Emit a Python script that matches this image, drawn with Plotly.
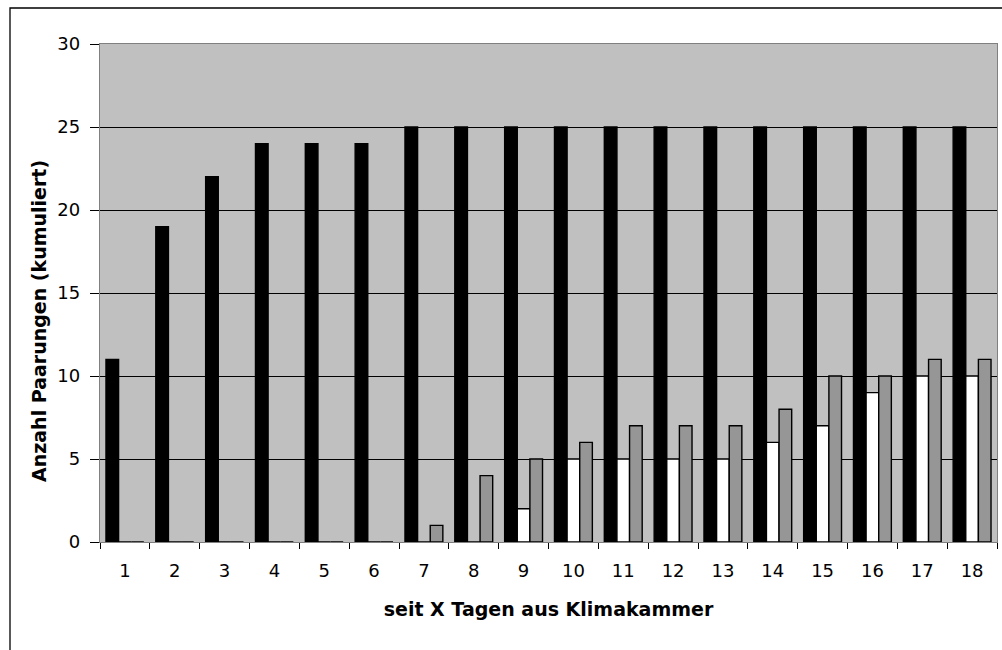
import plotly.graph_objects as go

# Tage seit Klimakammer
tage = [str(i) for i in range(1, 19)]

# kumulierte Paarungen je Gruppe
serie_schwarz = [11, 19, 22, 24, 24, 24, 25, 25, 25, 25, 25, 25, 25, 25, 25, 25, 25, 25]
serie_weiss = [0, 0, 0, 0, 0, 0, 0, 0, 2, 5, 5, 5, 5, 6, 7, 9, 10, 10]
serie_grau = [0, 0, 0, 0, 0, 0, 1, 4, 5, 6, 7, 7, 7, 8, 10, 10, 11, 11]

y_ticks = [0, 5, 10, 15, 20, 25, 30]

FONT = "DejaVu Sans, Arial, sans-serif"

fig = go.Figure()
for werte, farbe in [(serie_schwarz, "#000000"), (serie_weiss, "#FFFFFF"), (serie_grau, "#969696")]:
    fig.add_trace(go.Bar(
        x=tage, y=werte,
        marker=dict(color=farbe, line=dict(color="#000000", width=1.4)),
        showlegend=False,
    ))

# Plot-area geometry in pixels (used for the outer frame and the y title)
W, H = 1002, 650
L, R, T, B = 100, 5, 44, 108
pw, ph = W - L - R, H - T - B

def px_x(p):
    return (p - L) / pw

def px_y(p):
    return (H - B - p) / ph

fig.add_shape(
    type="rect", xref="paper", yref="paper",
    x0=px_x(10), x1=px_x(W + 20), y0=px_y(8), y1=px_y(H + 20),
    line=dict(color="#000000", width=1.3), fillcolor="rgba(0,0,0,0)",
    layer="below",
)

fig.add_annotation(
    xref="paper", yref="paper", x=px_x(39), y=px_y(321),
    text="<b>Anzahl Paarungen (kumuliert)</b>", textangle=-90,
    showarrow=False, xanchor="center", yanchor="middle",
    font=dict(family=FONT, size=19, color="#000000"),
)

fig.update_layout(
    width=W, height=H,
    margin=dict(l=L, r=R, t=T, b=B),
    paper_bgcolor="#FFFFFF",
    plot_bgcolor="#C0C0C0",
    barmode="group",
    bargap=0.24,
    bargroupgap=0,
    font=dict(family=FONT, size=18, color="#000000"),
    xaxis=dict(
        type="category",
        tickson="boundaries",
        ticks="outside", ticklen=6, tickcolor="#000000", tickwidth=1,
        ticklabelstandoff=12,
        showline=True, linecolor="#808080", linewidth=1.3, mirror=True,
        showgrid=False,
        tickfont=dict(family=FONT, size=18),
        title=dict(text="<b>seit X Tagen aus Klimakammer</b>", font=dict(family=FONT, size=19), standoff=22),
    ),
    yaxis=dict(
        range=[0, 30],
        tickvals=y_ticks,
        ticks="outside", ticklen=9, tickcolor="#000000", tickwidth=1,
        ticklabelstandoff=6,
        showline=True, linecolor="#808080", linewidth=1.3, mirror=True,
        showgrid=True, gridcolor="#000000", gridwidth=1,
        zeroline=False,
        tickfont=dict(family=FONT, size=18),
    ),
)

fig.write_html("out.html")
